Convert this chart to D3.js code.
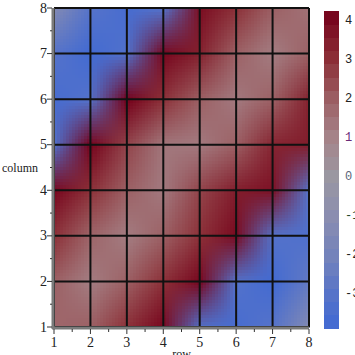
<!DOCTYPE html>
<html>
<head>
<meta charset="utf-8">
<script src="https://cdn.jsdelivr.net/npm/d3@7"></script>
<style>
  body { margin: 0; background: #fff; }
  svg { display: block; }
</style>
</head>
<body>
<div id="chart"></div>
<script>
// grid positions on both axes
const rows = [1, 2, 3, 4, 5, 6, 7, 8]
const columns = [1, 2, 3, 4, 5, 6, 7, 8]

// value at each (row, column) point, one list per row, columns 1..8
const row1 = [1.8, 2.0, 3.0, 4.1, -3.2, -3.6, -3.0, -1.3]
const row2 = [2.0, 1.2, 1.9, 3.0, 4.2, -3.1, -3.8, -3.0]
const row3 = [3.0, 2.0, 1.2, 2.0, 2.6, 4.25, -3.2, -3.6]
const row4 = [4.1, 3.0, 2.0, 1.3, 1.4, 3.0, 4.1, -3.1]
const row5 = [-3.2, 4.1, 3.0, 2.6, 1.3, 2.0, 3.4, 3.9]
const row6 = [-3.6, -3.1, 4.0, 3.5, 2.0, 1.3, 2.0, 3.0]
const row7 = [-3.0, -3.8, -3.1, 3.8, 3.3, 2.0, 1.2, 2.0]
const row8 = [-1.3, -2.6, -3.3, -3.0, 3.5, 3.4, 2.0, 1.5]
const grid = [row1, row2, row3, row4, row5, row6, row7, row8]

// colour bar
const barTicks = [-3, -2, -1, 0, 1, 2, 3, 4]
const barRange = [-3.86, 4.25]

// dimensions
const width = 355, height = 355
const plot = { left: 54, right: 309, top: 8, bottom: 327 }
const bar = { x: 324, w: 15, top: 11, bottom: 328, bands: 24 }

const svg = d3.select("#chart").append("svg")
    .attr("width", width)
    .attr("height", height)

const x = d3.scaleLinear().domain([1, 8]).range([plot.left, plot.right])
const y = d3.scaleLinear().domain([1, 8]).range([plot.bottom, plot.top])

const colour = d3.scaleLinear()
    .domain([-3.86, -3, -2, -1, 0, 1, 2, 3, 4.25])
    .range(["#4169d3", "#5673c9", "#7483bb", "#8a8db0", "#9a97a2", "#a5848a", "#9c6064", "#8c3038", "#74001a"])
    .interpolate(d3.interpolateRgb)
    .clamp(true)

// shaded cells: corner colours blended across each cell
const nx = 12, ny = 15
const shade = svg.append("g").attr("shape-rendering", "crispEdges")
for (let i = 0; i < rows.length - 1; i++) {
    for (let j = 0; j < columns.length - 1; j++) {
        const c00 = d3.rgb(colour(grid[i][j]))
        const c10 = d3.rgb(colour(grid[i + 1][j]))
        const c01 = d3.rgb(colour(grid[i][j + 1]))
        const c11 = d3.rgb(colour(grid[i + 1][j + 1]))
        for (let a = 0; a < nx; a++) {
            for (let b = 0; b < ny; b++) {
                const u = (a + 0.5) / nx, v = (b + 0.5) / ny
                const mix = k => (1 - u) * (1 - v) * c00[k] + u * (1 - v) * c10[k] + (1 - u) * v * c01[k] + u * v * c11[k]
                const x0 = x(rows[i] + a / nx), x1 = x(rows[i] + (a + 1) / nx)
                const y0 = y(columns[j] + (b + 1) / ny), y1 = y(columns[j] + b / ny)
                shade.append("rect")
                    .attr("x", x0).attr("y", y0)
                    .attr("width", x1 - x0 + 0.6).attr("height", y1 - y0 + 0.6)
                    .attr("fill", d3.rgb(mix("r"), mix("g"), mix("b")))
            }
        }
    }
}

// grid lines
svg.append("g").selectAll("line.v").data(rows).join("line")
    .attr("x1", d => x(d)).attr("x2", d => x(d))
    .attr("y1", plot.top).attr("y2", plot.bottom)
    .attr("stroke", "#111").attr("stroke-width", 2)
svg.append("g").selectAll("line.h").data(columns).join("line")
    .attr("y1", d => y(d)).attr("y2", d => y(d))
    .attr("x1", plot.left).attr("x2", plot.right)
    .attr("stroke", "#111").attr("stroke-width", 2)

// axes
const axisCol = "#7a7a7a"
svg.append("line")
    .attr("x1", plot.left - 1).attr("x2", plot.left - 1)
    .attr("y1", plot.top).attr("y2", plot.bottom + 2)
    .attr("stroke", axisCol).attr("stroke-width", 3)
svg.append("line")
    .attr("x1", plot.left - 2).attr("x2", plot.right)
    .attr("y1", plot.bottom + 1).attr("y2", plot.bottom + 1)
    .attr("stroke", axisCol).attr("stroke-width", 3)

const halves = d3.range(1.5, 8, 1)
svg.append("g").selectAll("line").data(columns).join("line")
    .attr("x1", plot.left - 7).attr("x2", plot.left - 2)
    .attr("y1", d => y(d)).attr("y2", d => y(d))
    .attr("stroke", "#333").attr("stroke-width", 1)
svg.append("g").selectAll("line").data(halves).join("line")
    .attr("x1", plot.left - 4).attr("x2", plot.left - 2)
    .attr("y1", d => y(d)).attr("y2", d => y(d))
    .attr("stroke", "#333").attr("stroke-width", 1)
svg.append("g").selectAll("line").data(rows).join("line")
    .attr("y1", plot.bottom + 2).attr("y2", plot.bottom + 7)
    .attr("x1", d => x(d)).attr("x2", d => x(d))
    .attr("stroke", "#333").attr("stroke-width", 1)
svg.append("g").selectAll("line").data(halves).join("line")
    .attr("y1", plot.bottom + 2).attr("y2", plot.bottom + 5)
    .attr("x1", d => x(d)).attr("x2", d => x(d))
    .attr("stroke", "#333").attr("stroke-width", 1)

const serif = "'Liberation Serif', 'Times New Roman', serif"
svg.append("g").selectAll("text").data(columns).join("text")
    .attr("x", plot.left - 7).attr("y", d => y(d))
    .attr("text-anchor", "end").attr("dominant-baseline", "central")
    .attr("font-family", serif).attr("font-size", 14).attr("fill", "#222")
    .text(d => d)
svg.append("g").selectAll("text").data(rows).join("text")
    .attr("x", d => x(d)).attr("y", plot.bottom + 20)
    .attr("text-anchor", "middle")
    .attr("font-family", serif).attr("font-size", 14).attr("fill", "#222")
    .text(d => d)

svg.append("text")
    .attr("x", 2).attr("y", (plot.top + plot.bottom) / 2 + 4)
    .attr("font-family", serif).attr("font-size", 12).attr("fill", "#222")
    .text("column")
svg.append("text")
    .attr("x", (plot.left + plot.right) / 2).attr("y", 358)
    .attr("text-anchor", "middle")
    .attr("font-family", serif).attr("font-size", 12).attr("fill", "#222")
    .text("row")

// colour bar
const by = d3.scaleLinear().domain(barRange).range([bar.bottom, bar.top])
const bandH = (bar.bottom - bar.top) / bar.bands
svg.append("g").attr("shape-rendering", "crispEdges")
    .selectAll("rect").data(d3.range(bar.bands)).join("rect")
    .attr("x", bar.x).attr("width", bar.w)
    .attr("y", k => bar.bottom - (k + 1) * bandH)
    .attr("height", bandH + 0.6)
    .attr("fill", k => colour(by.invert(bar.bottom - (k + 0.5) * bandH)))

const labelFill = { "1": "#6a2a78", "0": "#5a6478", "-1": "#24482c" }
svg.append("g").selectAll("text").data(barTicks).join("text")
    .attr("x", 345).attr("y", d => by(d))
    .attr("dominant-baseline", "central")
    .attr("font-family", "'Liberation Mono', 'DejaVu Sans Mono', monospace")
    .attr("font-size", 12)
    .attr("fill", d => labelFill[String(d)] || "#222")
    .text(d => d)
</script>
</body>
</html>
